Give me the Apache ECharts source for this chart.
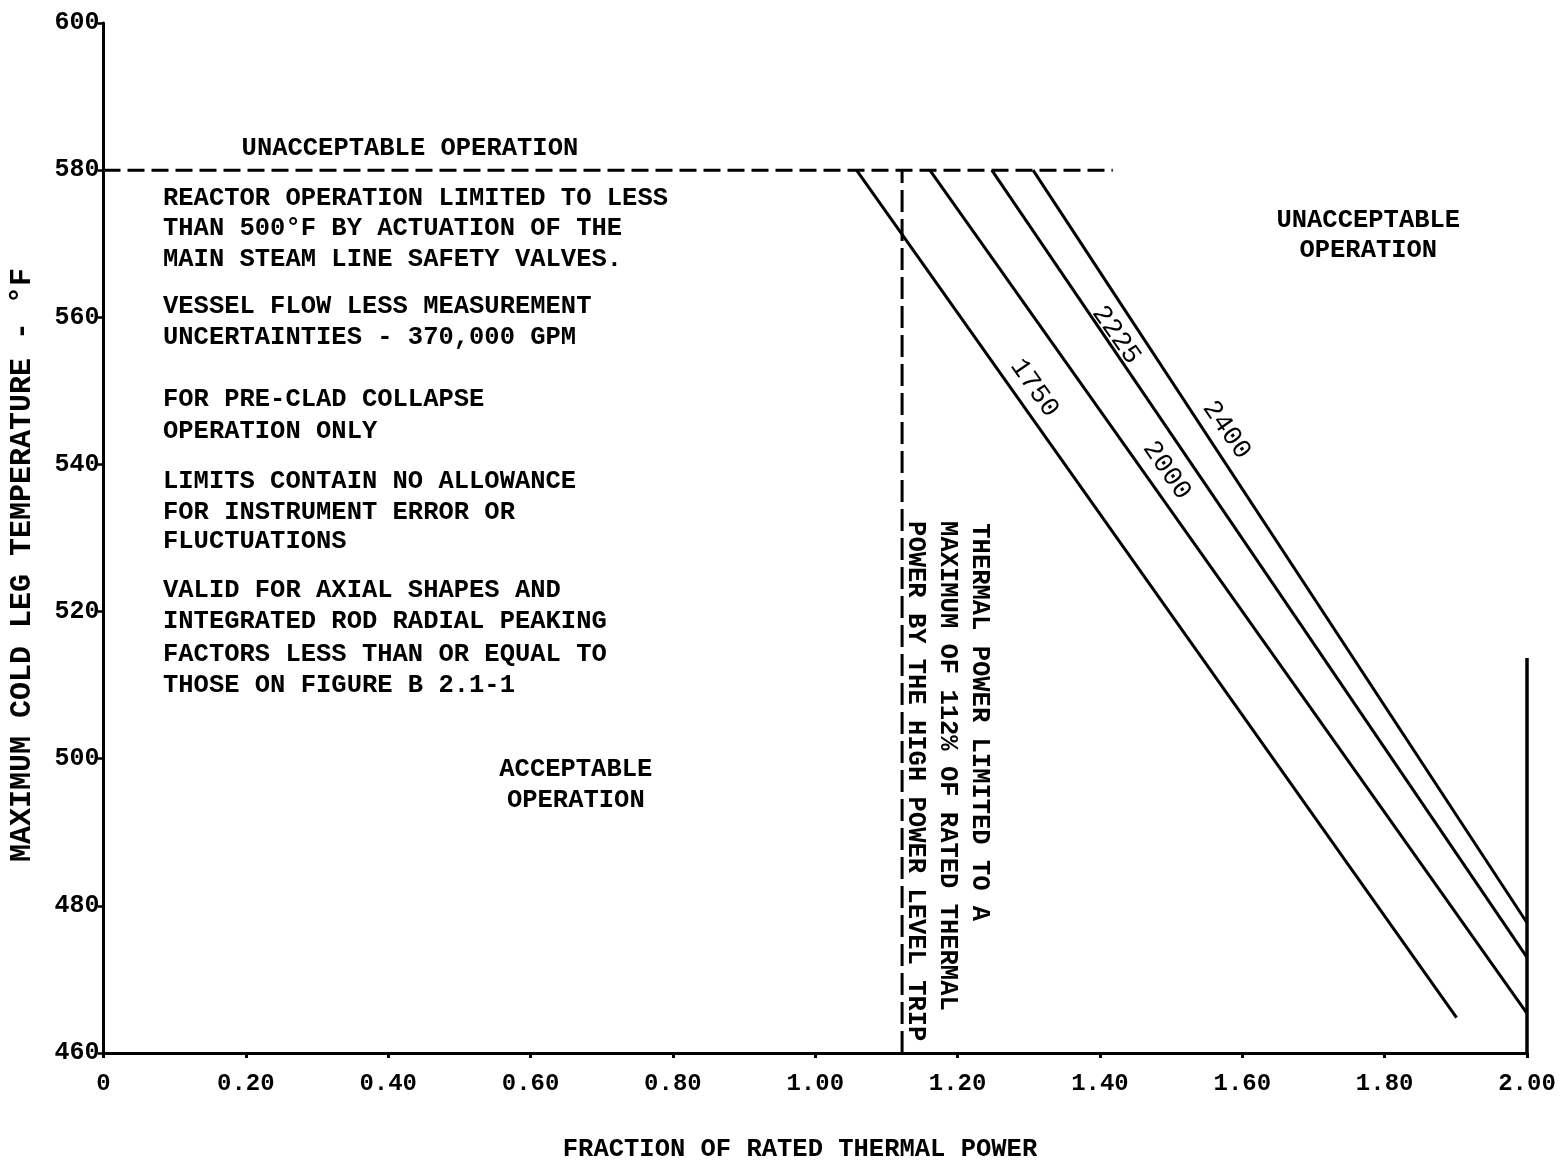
<!DOCTYPE html>
<html><head><meta charset="utf-8">
<script src="https://cdn.jsdelivr.net/npm/echarts@6/dist/echarts.min.js"></script>
<style>html,body{margin:0;padding:0;background:#fff}#c{width:1560px;height:1163px}</style>
</head><body><div id="c"></div>
<script>
// ---- data ----
const pressures = ['1750', '2000', '2225', '2400'];
const startX = [1.058, 1.161, 1.248, 1.306];
const startY = [580, 580, 580, 580];
const endX = [1.901, 2.00, 2.00, 2.00];
const endY = [464.8, 465.4, 473.0, 477.7];

const limitLineX = [0, 1.418];
const limitLineY = [580, 580];
const tripLineX = [1.122, 1.122];
const tripLineY = [460, 580];
const edgeLineX = [2.0, 2.0];
const edgeLineY = [460, 513.7];

const curveLabelX = [1.308, 1.494, 1.423, 1.578];
const curveLabelY = [550.4, 539.2, 557.6, 544.7];

const yTicks = [460, 480, 500, 520, 540, 560, 580, 600];

const noteTexts = [
  'REACTOR OPERATION LIMITED TO LESS',
  'THAN 500°F BY ACTUATION OF THE',
  'MAIN STEAM LINE SAFETY VALVES.',
  'VESSEL FLOW LESS MEASUREMENT',
  'UNCERTAINTIES - 370,000 GPM',
  'FOR PRE-CLAD COLLAPSE',
  'OPERATION ONLY',
  'LIMITS CONTAIN NO ALLOWANCE',
  'FOR INSTRUMENT ERROR OR',
  'FLUCTUATIONS',
  'VALID FOR AXIAL SHAPES AND',
  'INTEGRATED ROD RADIAL PEAKING',
  'FACTORS LESS THAN OR EQUAL TO',
  'THOSE ON FIGURE B 2.1-1'
];
const noteX = 0.0836;
const noteY = [576.2, 572.1, 567.9, 561.5, 557.2, 548.8, 544.5, 537.7, 533.5, 529.5, 522.8, 518.6, 514.2, 510.0];

const regionTexts = ['UNACCEPTABLE OPERATION', 'ACCEPTABLE', 'OPERATION', 'UNACCEPTABLE', 'OPERATION'];
const regionX = [0.4305, 0.6636, 0.6636, 1.777, 1.777];
const regionY = [582.9, 498.5, 494.3, 573.2, 569.0];

const tripTexts = ['THERMAL POWER LIMITED TO A', 'MAXIMUM OF 112% OF RATED THERMAL', 'POWER BY THE HIGH POWER LEVEL TRIP'];
const tripTextX = [1.231, 1.185, 1.141];
const tripTextY = [532.0, 532.3, 532.3];

const xAxisTitle = 'FRACTION OF RATED THERMAL POWER';
const yAxisTitle = 'MAXIMUM COLD LEG TEMPERATURE - °F';

// ---- chart ----
const FONT = '"Liberation Mono", "DejaVu Sans Mono", monospace';
const INK = '#000';
const chart = echarts.init(document.getElementById('c'), null, {renderer: 'canvas'});

function pairs(xs, ys) { return xs.map((x, i) => [x, ys[i]]); }

const series = [];
pressures.forEach((p, i) => {
  series.push({
    type: 'line', name: p, silent: true, symbol: 'none', animation: false,
    data: [[startX[i], startY[i]], [endX[i], endY[i]]],
    lineStyle: {color: INK, width: 3}
  });
});
series.push({type: 'line', silent: true, symbol: 'none', animation: false,
  data: pairs(limitLineX, limitLineY), lineStyle: {color: INK, width: 3, type: [17, 7]}});
series.push({type: 'line', silent: true, symbol: 'none', animation: false,
  data: pairs(tripLineX, tripLineY), lineStyle: {color: INK, width: 3, type: [22, 7]}});
series.push({type: 'line', silent: true, symbol: 'none', animation: false,
  data: pairs(edgeLineX, edgeLineY), lineStyle: {color: INK, width: 3.5}});

function textSeries(items) {
  return {
    type: 'scatter', silent: true, animation: false, symbolSize: 0,
    itemStyle: {opacity: 1, color: INK},
    data: items,
    label: {show: true, position: 'inside', color: INK, opacity: 1, fontFamily: FONT, fontWeight: 'bold', fontSize: 25.5,
      formatter: (p) => p.data.text}
  };
}
const textItems = [];
noteTexts.forEach((t, i) => textItems.push({value: [noteX, noteY[i]], text: t, label: {align: 'left', verticalAlign: 'middle'}}));
regionTexts.forEach((t, i) => textItems.push({value: [regionX[i], regionY[i]], text: t, label: {align: 'center', verticalAlign: 'middle'}}));
tripTexts.forEach((t, i) => textItems.push({value: [tripTextX[i], tripTextY[i]], text: t, label: {align: 'left', verticalAlign: 'middle', rotate: -90}}));
pressures.forEach((p, i) => textItems.push({value: [curveLabelX[i], curveLabelY[i]], text: p, label: {align: 'center', verticalAlign: 'middle', rotate: -55, fontWeight: 'normal', fontSize: 27}}));
series.push(textSeries(textItems));

chart.setOption({
  backgroundColor: '#fff',
  animation: false,
  grid: {left: 103.5, right: 33, top: 23, bottom: 110, containLabel: false},
  xAxis: {
    type: 'value', min: 0, max: 2.0, interval: 0.2,
    axisLine: {lineStyle: {color: INK, width: 3}},
    axisTick: {show: true, length: 5, inside: false, lineStyle: {color: INK, width: 3}},
    splitLine: {show: false},
    axisLabel: {color: INK, fontFamily: FONT, fontWeight: 'bold', fontSize: 24, margin: 19,
      formatter: (v) => v === 0 ? '0' : v.toFixed(2)}
  },
  yAxis: {
    type: 'value', min: yTicks[0], max: yTicks[yTicks.length - 1], interval: 20,
    axisLine: {show: true, lineStyle: {color: INK, width: 3}},
    axisTick: {show: true, length: 6, lineStyle: {color: INK, width: 2.5}},
    splitLine: {show: false},
    axisLabel: {color: INK, fontFamily: FONT, fontWeight: 'bold', fontSize: 25, margin: 4}
  },
  graphic: [
    {type: 'text', x: 800, y: 1150, silent: true,
      style: {text: xAxisTitle, fill: INK, font: 'bold 25.5px ' + FONT, textAlign: 'center', textVerticalAlign: 'middle'}},
    {type: 'text', x: 22, y: 565, rotation: Math.PI / 2, silent: true,
      style: {text: yAxisTitle, fill: INK, font: 'bold 30px ' + FONT, textAlign: 'center', textVerticalAlign: 'middle'}}
  ],
  series: series
});
</script></body></html>
